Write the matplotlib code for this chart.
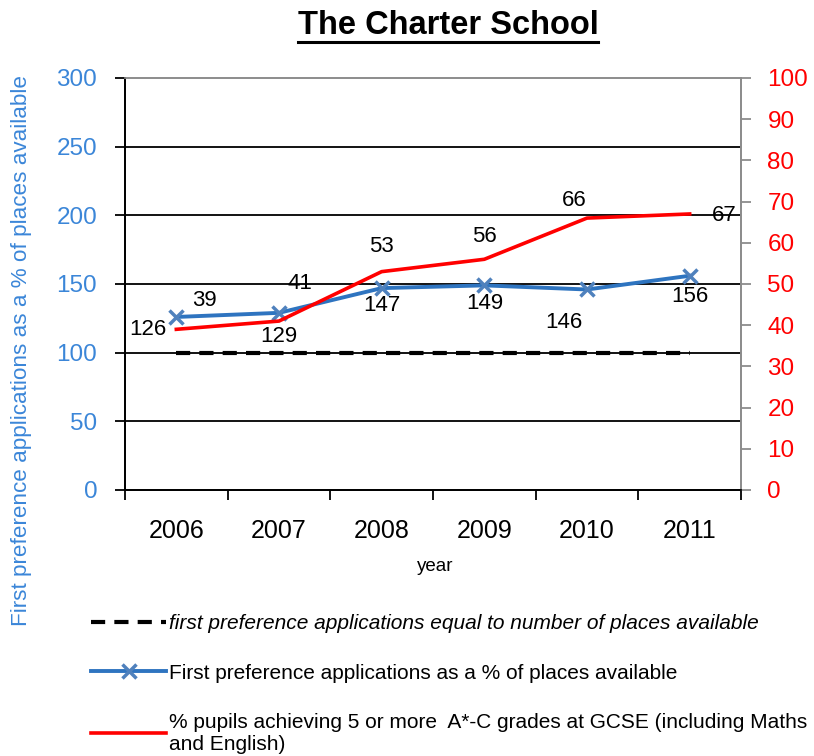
import matplotlib
matplotlib.use("Agg")
import matplotlib.pyplot as plt
from matplotlib.lines import Line2D
import numpy as np

plt.rcParams['font.family'] = ['Liberation Sans', 'DejaVu Sans']

years = ["2006", "2007", "2008", "2009", "2010", "2011"]
applications_pct = [126, 129, 147, 149, 146, 156]
gcse_pct = [39, 41, 53, 56, 66, 67]
equal_line = [100, 100, 100, 100, 100, 100]

title = "The Charter School"
left_ticks = [0, 50, 100, 150, 200, 250, 300]
right_ticks = [0, 10, 20, 30, 40, 50, 60, 70, 80, 90, 100]
legend_labels = [
    "first preference applications equal to number of places available",
    "First preference applications as a % of places available",
    "% pupils achieving 5 or more  A*-C grades at GCSE (including Maths\nand English)",
]

BLUE = "#2e74c0"
BLUE_TXT = "#3b86d8"
RED = "#ff0000"
GREY = "#8c8c8c"

fig = plt.figure(figsize=(8.14, 7.56), dpi=100)
W, H = 814, 756
ax = fig.add_axes([125 / W, 1 - 490 / H, 616 / W, 412 / H])
ax2 = ax.twinx()

x = np.arange(len(years))

ax.set_xlim(-0.5, len(years) - 0.5)
ax.set_ylim(0, 300)
ax2.set_ylim(0, 100)

for v in left_ticks[1:-1]:
    ax.axhline(v, color="black", lw=1.3, zorder=1)

l_dash, = ax.plot(x, equal_line, color="black", lw=3, dashes=(3.4, 2.2), zorder=2)
l_blue, = ax.plot(x, applications_pct, color=BLUE, lw=2.8, marker="x", ms=10,
                  mew=2.5, mec="#4f81bd", zorder=4)
l_red, = ax2.plot(x, gcse_pct, color=RED, lw=2.6, zorder=3)

# data labels (offsets in pixels)
blue_off = [(-28, -13), (0, -24), (0, -17), (0, -18), (-23, -33), (0, -21)]
red_off = [(28, 29), (21, 38), (0, 25), (0, 23), (-13, 18), (35, -2)]
for i, v in enumerate(applications_pct):
    ax.annotate(str(v), (x[i], v), xytext=(blue_off[i][0] * 0.72, blue_off[i][1] * 0.72),
                textcoords="offset points", ha="center", va="center", fontsize=16, zorder=6)
for i, v in enumerate(gcse_pct):
    ax2.annotate(str(v), (x[i], v), xytext=(red_off[i][0] * 0.72, red_off[i][1] * 0.72),
                 textcoords="offset points", ha="center", va="center", fontsize=16, zorder=6,
                 annotation_clip=False)

ax.set_yticks(left_ticks)
ax.set_yticklabels([str(t) for t in left_ticks], color=BLUE_TXT, fontsize=17.5)
ax2.set_yticks(right_ticks)
ax2.set_yticklabels([str(t) for t in right_ticks], color=RED, fontsize=17.5)

ax.set_xticks(x)
ax.set_xticklabels(years, fontsize=18)
ax.set_xticks(np.arange(-0.5, len(years)), minor=True)
ax.tick_params(axis="x", which="major", length=0, pad=21)
ax.tick_params(axis="x", which="minor", length=7, width=1.3, direction="out")
ax.tick_params(axis="y", length=7, width=1.3, direction="out", pad=13)
ax2.tick_params(axis="y", length=7, width=1.3, direction="out", pad=12, color=GREY)

for a in (ax, ax2):
    a.spines["top"].set_color(GREY)
    a.spines["top"].set_linewidth(1.2)
    a.spines["left"].set_color("black")
    a.spines["bottom"].set_color("black")
    a.spines["left"].set_linewidth(1.3)
    a.spines["bottom"].set_linewidth(1.3)
    a.spines["right"].set_color(GREY)
    a.spines["right"].set_linewidth(1.3)

ax.set_xlabel("year", fontsize=13.5)
ax.xaxis.set_label_coords((435 - 125) / 616, -(558 - 490) / 412)

fig.text(22 / W, 1 - 350 / H, "First preference applications as a % of places available",
         rotation=90, ha="center", va="center", fontsize=16.2, color=BLUE_TXT)

# title with underline
t = fig.text(448 / W, 1 - 25 / H, title, ha="center", va="center",
             fontsize=23.5, fontweight="bold")
fig.canvas.draw()
bb = t.get_window_extent(renderer=fig.canvas.get_renderer())
uy = bb.y0 - 1
fig.add_artist(Line2D([bb.x0 / W, bb.x1 / W], [uy / H, uy / H],
                      transform=fig.transFigure, color="black", lw=2.2))

leg = fig.legend([l_dash, l_blue, l_red], legend_labels, loc="upper left",
                 bbox_to_anchor=(83 / W, 1 - 606 / H), frameon=False, fontsize=15,
                 handlelength=3.6, handletextpad=0.12, labelspacing=1.45,
                 borderaxespad=0)
leg.get_texts()[0].set_style("italic")

fig.savefig("out.png", dpi=100)
